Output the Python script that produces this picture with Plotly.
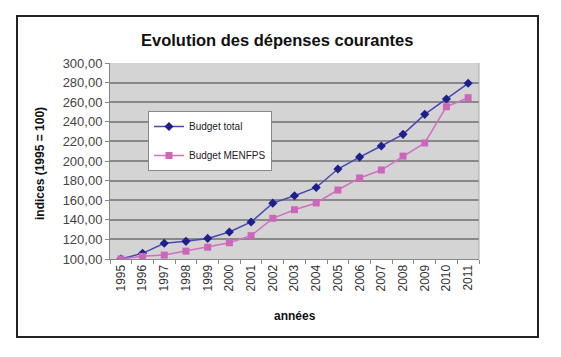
import plotly.graph_objects as go

years = [str(y) for y in range(1995, 2012)]
budget_total = [100, 105.8, 116, 118, 121, 127.5, 137.8, 157, 164.6, 173, 191.8, 204, 215.3, 227.2, 247.6, 263.3, 279.3]
budget_menfps = [100, 102.7, 104, 108, 112, 116.6, 123.8, 141.5, 150.3, 157.2, 170.4, 182.7, 190.8, 205, 218.4, 255.4, 264.6]
y_ticks = [100, 120, 140, 160, 180, 200, 220, 240, 260, 280, 300]

FONT = "Liberation Sans, Arial, sans-serif"

W, H = 561, 357
L, R, T, B = 110, 82, 63, 98
pw, ph = W - L - R, H - T - B

def px(x):
    return (x - L) / pw

def py(y):
    return (H - B - y) / ph

fig = go.Figure()
fig.add_trace(go.Scatter(
    x=years, y=budget_total, name="Budget total", mode="lines+markers",
    line=dict(color="#4848b0", width=1.5),
    marker=dict(symbol="diamond", size=7, color="#1f1f8c"),
    legendgroup="a",
))
fig.add_trace(go.Scatter(
    x=years, y=budget_menfps, name="Budget MENFPS", mode="lines+markers",
    line=dict(color="#d070c0", width=1.5),
    marker=dict(symbol="square", size=7, color="#cc66bb"),
    legendgroup="b",
))

fig.update_layout(
    width=W, height=H,
    margin=dict(l=L, r=R, t=T, b=B),
    paper_bgcolor="white",
    plot_bgcolor="#d4d4d4",
    separators=", ",
    font=dict(family=FONT, color="#333333"),
    showlegend=True,
    legend=dict(
        x=px(148), y=py(111), xanchor="left", yanchor="top",
        bgcolor="white", bordercolor="#888888", borderwidth=1,
        font=dict(size=10, color="#222222", family=FONT),
        tracegroupgap=10, traceorder="grouped", itemwidth=30,
    ),
    xaxis=dict(
        type="category", tickangle=-90, tickson="boundaries",
        ticks="outside", ticklen=4, tickcolor="#888888",
        showline=True, linecolor="#888888", linewidth=1,
        showgrid=False,
        tickfont=dict(size=12, color="#333333", family=FONT),
        range=[-0.5, 16.5],
    ),
    yaxis=dict(
        range=[100, 300], tickvals=y_ticks, tickformat=".2f",
        ticks="outside", ticklen=4, tickcolor="#888888",
        showline=True, linecolor="#888888", linewidth=1,
        showgrid=True, gridcolor="#888888", gridwidth=1.5,
        zeroline=False,
        tickfont=dict(size=13, color="#444444", family=FONT),
    ),
    shapes=[
        dict(type="rect", xref="paper", yref="paper",
             x0=px(17), x1=px(538), y0=py(337), y1=py(16),
             line=dict(color="#222222", width=2), layer="below"),
        dict(type="line", xref="paper", yref="paper",
             x0=1, x1=1, y0=0, y1=1,
             line=dict(color="#aaaaaa", width=1)),
    ],
    annotations=[
        dict(text="<b>Evolution des dépenses courantes</b>", xref="paper", yref="paper",
             x=px(277), y=py(40), showarrow=False, xanchor="center", yanchor="middle",
             font=dict(size=16.5, color="#111111", family=FONT)),
        dict(text="<b>indices (1995 = 100)</b>", xref="paper", yref="paper",
             x=px(40), y=py(164), showarrow=False, textangle=-90,
             xanchor="center", yanchor="middle",
             font=dict(size=12, color="#111111", family=FONT)),
        dict(text="<b>années</b>", xref="paper", yref="paper",
             x=px(295), y=py(316), showarrow=False,
             xanchor="center", yanchor="middle",
             font=dict(size=12, color="#111111", family=FONT)),
    ],
)

fig.write_html(
    "out.html",
    config={"displayModeBar": False},
    post_script="document.body.style.margin='0';document.body.style.padding='0';",
)
